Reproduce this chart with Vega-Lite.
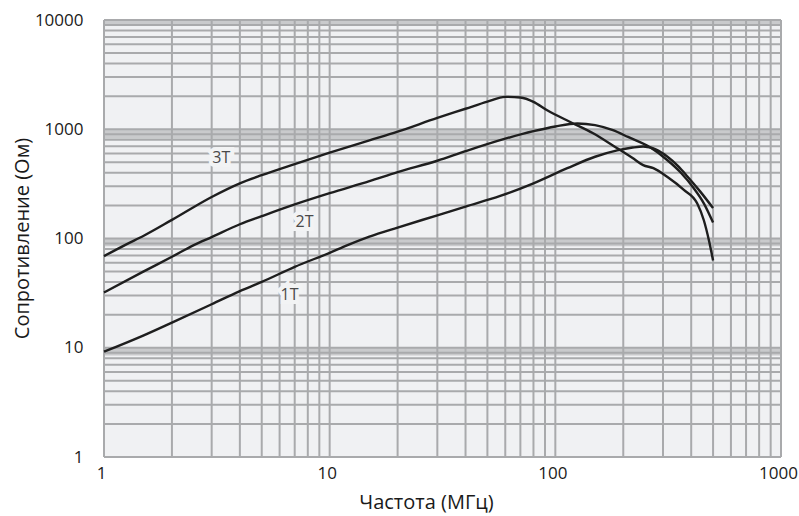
{
  "$schema": "https://vega.github.io/schema/vega-lite/v6.json",
  "autosize": "none",
  "width": 677,
  "height": 437,
  "padding": {"left": 104, "top": 20, "right": 18, "bottom": 59},
  "background": "white",
  "config": {
    "view": {"stroke": null, "fill": "#f0f1f3"},
    "font": "Open Sans"
  },
  "datasets": {
    "gridX": [
      {"v": 1}, {"v": 2}, {"v": 3}, {"v": 4}, {"v": 5}, {"v": 6}, {"v": 7}, {"v": 8}, {"v": 9},
      {"v": 10}, {"v": 20}, {"v": 30}, {"v": 40}, {"v": 50}, {"v": 60}, {"v": 70}, {"v": 80}, {"v": 90},
      {"v": 100}, {"v": 200}, {"v": 300}, {"v": 400}, {"v": 500}, {"v": 600}, {"v": 700}, {"v": 800}, {"v": 900},
      {"v": 1000}
    ],
    "gridY": [
      {"v": 1}, {"v": 2}, {"v": 3}, {"v": 4}, {"v": 5}, {"v": 6}, {"v": 7}, {"v": 8}, {"v": 9},
      {"v": 10}, {"v": 20}, {"v": 30}, {"v": 40}, {"v": 50}, {"v": 60}, {"v": 70}, {"v": 80}, {"v": 90},
      {"v": 100}, {"v": 200}, {"v": 300}, {"v": 400}, {"v": 500}, {"v": 600}, {"v": 700}, {"v": 800}, {"v": 900},
      {"v": 1000}, {"v": 2000}, {"v": 3000}, {"v": 4000}, {"v": 5000}, {"v": 6000}, {"v": 7000}, {"v": 8000}, {"v": 9000},
      {"v": 10000}
    ],
    "bands": [
      {"lo": 8.5, "hi": 10},
      {"lo": 85, "hi": 100},
      {"lo": 820, "hi": 1000},
      {"lo": 8800, "hi": 10000}
    ],
    "curves": [
      {"s": "3T", "f": 1, "r": 69}, {"s": "3T", "f": 1.25, "r": 88}, {"s": "3T", "f": 1.5, "r": 106},
      {"s": "3T", "f": 2, "r": 148}, {"s": "3T", "f": 3, "r": 240}, {"s": "3T", "f": 4, "r": 320},
      {"s": "3T", "f": 5, "r": 380}, {"s": "3T", "f": 7, "r": 480}, {"s": "3T", "f": 10, "r": 610},
      {"s": "3T", "f": 15, "r": 790}, {"s": "3T", "f": 20, "r": 950}, {"s": "3T", "f": 30, "r": 1270},
      {"s": "3T", "f": 40, "r": 1540}, {"s": "3T", "f": 50, "r": 1790}, {"s": "3T", "f": 60, "r": 1980},
      {"s": "3T", "f": 70, "r": 1950}, {"s": "3T", "f": 80, "r": 1780}, {"s": "3T", "f": 92, "r": 1490},
      {"s": "3T", "f": 117, "r": 1160}, {"s": "3T", "f": 147, "r": 920}, {"s": "3T", "f": 188, "r": 670},
      {"s": "3T", "f": 220, "r": 545}, {"s": "3T", "f": 245, "r": 470}, {"s": "3T", "f": 272, "r": 440},
      {"s": "3T", "f": 314, "r": 365}, {"s": "3T", "f": 370, "r": 280}, {"s": "3T", "f": 425, "r": 210},
      {"s": "3T", "f": 455, "r": 147}, {"s": "3T", "f": 480, "r": 95}, {"s": "3T", "f": 500, "r": 63},
      {"s": "2T", "f": 1, "r": 32}, {"s": "2T", "f": 1.5, "r": 50}, {"s": "2T", "f": 2, "r": 68},
      {"s": "2T", "f": 2.5, "r": 87}, {"s": "2T", "f": 3, "r": 103}, {"s": "2T", "f": 4, "r": 135},
      {"s": "2T", "f": 5, "r": 160}, {"s": "2T", "f": 7, "r": 205}, {"s": "2T", "f": 10, "r": 260},
      {"s": "2T", "f": 15, "r": 335}, {"s": "2T", "f": 20, "r": 405}, {"s": "2T", "f": 30, "r": 515},
      {"s": "2T", "f": 40, "r": 630}, {"s": "2T", "f": 60, "r": 820}, {"s": "2T", "f": 80, "r": 960},
      {"s": "2T", "f": 100, "r": 1060}, {"s": "2T", "f": 125, "r": 1130}, {"s": "2T", "f": 150, "r": 1090},
      {"s": "2T", "f": 180, "r": 980}, {"s": "2T", "f": 210, "r": 850}, {"s": "2T", "f": 264, "r": 680},
      {"s": "2T", "f": 314, "r": 520}, {"s": "2T", "f": 360, "r": 400}, {"s": "2T", "f": 410, "r": 290},
      {"s": "2T", "f": 455, "r": 210}, {"s": "2T", "f": 500, "r": 140},
      {"s": "1T", "f": 1, "r": 9.2}, {"s": "1T", "f": 1.5, "r": 13}, {"s": "1T", "f": 2, "r": 17},
      {"s": "1T", "f": 3, "r": 25}, {"s": "1T", "f": 4, "r": 33}, {"s": "1T", "f": 5, "r": 40},
      {"s": "1T", "f": 7, "r": 55}, {"s": "1T", "f": 10, "r": 74}, {"s": "1T", "f": 12, "r": 87},
      {"s": "1T", "f": 15, "r": 104}, {"s": "1T", "f": 20, "r": 126}, {"s": "1T", "f": 30, "r": 163},
      {"s": "1T", "f": 40, "r": 196}, {"s": "1T", "f": 57, "r": 245}, {"s": "1T", "f": 80, "r": 320},
      {"s": "1T", "f": 113, "r": 440}, {"s": "1T", "f": 150, "r": 560}, {"s": "1T", "f": 188, "r": 640},
      {"s": "1T", "f": 220, "r": 680}, {"s": "1T", "f": 245, "r": 695}, {"s": "1T", "f": 280, "r": 650},
      {"s": "1T", "f": 314, "r": 560}, {"s": "1T", "f": 350, "r": 460}, {"s": "1T", "f": 385, "r": 370},
      {"s": "1T", "f": 438, "r": 270}, {"s": "1T", "f": 500, "r": 190}
    ],
    "labels": [
      {"t": "3T", "f": 3.31, "r": 546},
      {"t": "2T", "f": 7.74, "r": 142},
      {"t": "1T", "f": 6.64, "r": 30.4}
    ]
  },
  "layer": [
    {
      "data": {"name": "bands"},
      "mark": {"type": "rect", "color": "#c9cacc"},
      "encoding": {
        "x": {
          "datum": 1, "type": "quantitative",
          "scale": {"type": "log", "domain": [1, 1000], "nice": false},
          "axis": {
            "title": "Частота (МГц)",
            "values": [1, 10, 100, 1000],
            "format": "d",
            "grid": false, "domain": false, "ticks": false, "tickSize": 0,
            "labelPadding": 8,
            "labelOffset": -3,
            "labelFontSize": 17, "labelColor": "#1a1a1a", "labelFont": "Open Sans",
            "labelFlush": false,
            "titleFontSize": 20, "titleFontWeight": "normal", "titleColor": "#1a1a1a", "titleFont": "Open Sans",
            "titleX": 322, "titleY": 51, "titleBaseline": "alphabetic", "titleAlign": "center", "titleAnchor": null
          }
        },
        "x2": {"datum": 1000},
        "y": {
          "field": "lo", "type": "quantitative",
          "scale": {"type": "log", "domain": [1, 10000], "nice": false},
          "axis": {
            "title": "Сопротивление (Ом)",
            "values": [1, 10, 100, 1000, 10000],
            "format": "d",
            "grid": false, "domain": false, "ticks": false, "tickSize": 0,
            "labelPadding": 21,
            "labelFontSize": 17, "labelColor": "#1a1a1a", "labelFont": "Open Sans",
            "labelFlush": false,
            "titleFontSize": 20, "titleFontWeight": "normal", "titleColor": "#1a1a1a", "titleFont": "Open Sans",
            "titleAngle": -90, "titleX": -82, "titleY": 218, "titleBaseline": "middle", "titleAlign": "center", "titleAnchor": null
          }
        },
        "y2": {"field": "hi"}
      }
    },
    {
      "data": {"name": "gridX"},
      "mark": {"type": "rule", "color": "#a9aaac", "strokeWidth": 2},
      "encoding": {
        "x": {"field": "v", "type": "quantitative"}
      }
    },
    {
      "data": {"name": "gridY"},
      "mark": {"type": "rule", "color": "#a9aaac", "strokeWidth": 2},
      "encoding": {
        "y": {"field": "v", "type": "quantitative"}
      }
    },
    {
      "data": {"name": "labels"},
      "mark": {"type": "text", "fontSize": 16, "color": "#f2f3f4", "stroke": "#f2f3f4", "strokeWidth": 8, "font": "Open Sans"},
      "encoding": {
        "x": {"field": "f", "type": "quantitative"},
        "y": {"field": "r", "type": "quantitative"},
        "text": {"field": "t"}
      }
    },
    {
      "data": {"name": "labels"},
      "mark": {"type": "text", "fontSize": 16, "color": "#4a4a4a", "font": "Open Sans"},
      "encoding": {
        "x": {"field": "f", "type": "quantitative"},
        "y": {"field": "r", "type": "quantitative"},
        "text": {"field": "t"}
      }
    },
    {
      "data": {"name": "curves"},
      "mark": {"type": "line", "color": "#1e1e1e", "strokeWidth": 2.4, "interpolate": "monotone"},
      "encoding": {
        "x": {"field": "f", "type": "quantitative"},
        "y": {"field": "r", "type": "quantitative"},
        "detail": {"field": "s"}
      }
    }
  ]
}
